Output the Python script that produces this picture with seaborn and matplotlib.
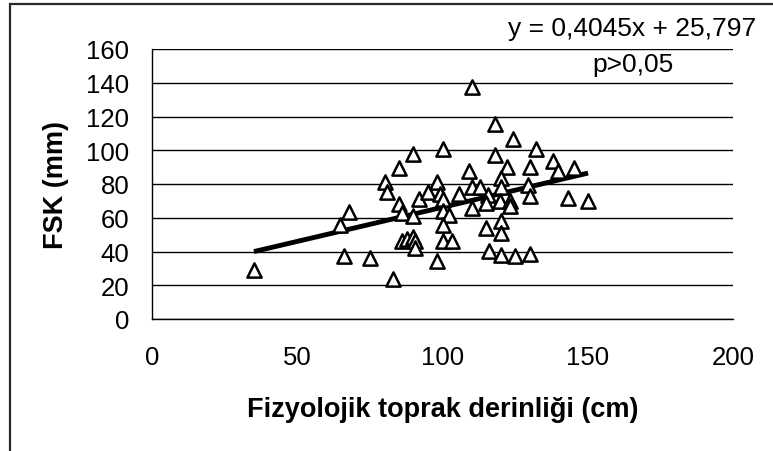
import matplotlib
matplotlib.use("Agg")
import matplotlib.pyplot as plt
import seaborn as sns
import pandas as pd
import numpy as np

# ---- data ----
depth_cm = [35, 64.6, 67.8, 66, 74.8, 83, 80, 80.8, 85, 85, 86, 89.8, 89.8, 91.8,
            95, 98, 99, 100, 100, 102.3, 100, 100, 103.3, 98, 100, 86, 87.6, 89.8,
            90.3, 90.3, 105.7, 109, 110, 118, 124, 132, 118, 122, 130, 137.8, 139.8,
            145, 143, 150, 120, 120, 110, 112.8, 115.5, 129.2, 130, 110, 115, 119.7,
            123, 123, 115, 120, 120, 116, 120, 125, 130]
fsk_mm = [29, 55.7, 63.2, 37.5, 36, 23.5, 81.4, 75, 89.5, 68, 63, 97.5, 61, 71,
          75.4, 81, 74, 71, 64, 61.5, 56, 46.4, 46.4, 34.6, 100.5, 46, 47.4, 48.4,
          46.4, 41.8, 74, 87.7, 137.3, 115.4, 106.8, 101, 97.3, 90.3, 90, 93.5, 87.5,
          89.6, 72, 70, 83.7, 78, 78, 78, 73.5, 79.4, 73, 65.5, 68.5, 70,
          70, 67, 54, 57.8, 51.2, 40.5, 38, 37.3, 38.5]
slope = 0.4045
intercept = 25.797
equation_text = "y = 0,4045x + 25,797"
p_text = "p>0,05"
x_ticks = [0, 50, 100, 150, 200]
y_ticks = [0, 20, 40, 60, 80, 100, 120, 140, 160]
x_label = "Fizyolojik toprak derinliği (cm)"
y_label = "FSK (mm)"

df = pd.DataFrame({"x": depth_cm, "y": fsk_mm})
x_line = np.array([min(depth_cm), max(depth_cm)])
line_df = pd.DataFrame({"x": x_line, "y": slope * x_line + intercept})

sns.set_theme(style="white")
plt.rcParams["font.family"] = ["Liberation Sans", "DejaVu Sans"]

W, H = 773, 452
fig = plt.figure(figsize=(W / 100, H / 100), dpi=100)
fig.patch.set_facecolor("white")

# background axes in pixel units for the partially visible chart frame
bg = fig.add_axes([0, 0, 1, 1], zorder=-5)
bg.set_xlim(0, W)
bg.set_ylim(H, 0)
bg.axis("off")
bg.plot([9.5, 9.5, W + 5], [H + 5, 5, 5], color="#2a2a2a", linewidth=1.6,
        solid_joinstyle="miter", clip_on=False)

left, right, top, bottom = 152.3, 733.3, 50, 320
ax = fig.add_axes([left / W, 1 - bottom / H, (right - left) / W, (bottom - top) / H])

ax.set_axisbelow(True)
ax.yaxis.grid(True, color="black", linewidth=1.0)
ax.xaxis.grid(False)

sns.lineplot(data=line_df, x="x", y="y", ax=ax, color="black", linewidth=3.5,
             zorder=3, solid_capstyle="butt")
sns.scatterplot(data=df, x="x", y="y", ax=ax, marker="^", s=105,
                facecolor="white", edgecolor="black", linewidth=1.8, zorder=4)

ax.set_xlim(0, 200)
ax.set_ylim(0, 160)
ax.set_xticks(x_ticks)
ax.set_yticks(y_ticks)
ax.set_xticklabels([str(t) for t in x_ticks])
ax.set_yticklabels([str(t) for t in y_ticks])

for s in ["top", "right"]:
    ax.spines[s].set_visible(False)
for s in ["left", "bottom"]:
    ax.spines[s].set_visible(True)
    ax.spines[s].set_color("black")
    ax.spines[s].set_linewidth(1.0)

ax.tick_params(axis="both", which="major", direction="out", length=6.5, width=1.0,
               color="black", labelsize=18.5, labelcolor="black")
ax.tick_params(axis="y", pad=10)
ax.tick_params(axis="x", pad=12)

ax.set_xlabel(x_label, fontsize=19.5, fontweight="bold", color="black")
ax.set_ylabel(y_label, fontsize=19.5, fontweight="bold", color="black")
ax.xaxis.set_label_coords(0.5, (bottom - 397) / (bottom - top))
ax.yaxis.get_label().set_va("center")
ax.yaxis.set_label_coords((56 - left) / (right - left), 0.5)

fig.text(756 / W, 1 - 29 / H, equation_text, ha="right", va="center",
         fontsize=19, color="black")
fig.text(633 / W, 1 - 65 / H, p_text, ha="center", va="center",
         fontsize=19, color="black")

fig.savefig("out.png", dpi=100, facecolor="white")
